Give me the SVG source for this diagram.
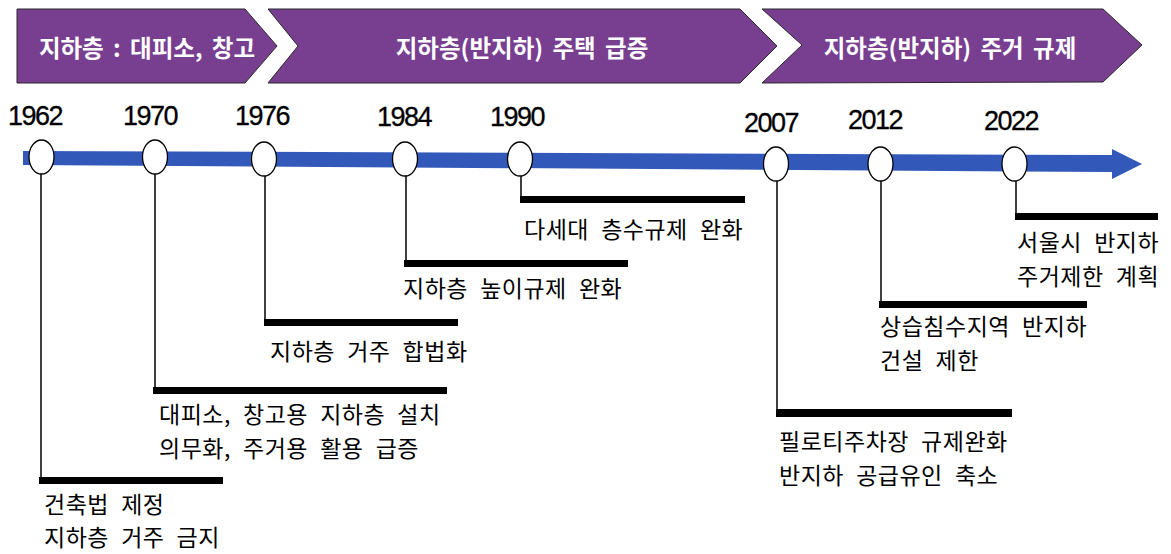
<svg xmlns="http://www.w3.org/2000/svg" width="1171" height="554" viewBox="0 0 1171 554">
<style>
.banner{fill:#783E90;stroke:#2a2a2a;stroke-width:1}
.btxt{font-family:"Noto Sans CJK KR",sans-serif;font-size:23.5px;font-weight:bold;fill:#fff;text-anchor:middle;word-spacing:4px}
.year{font-family:"Liberation Sans",Arial,sans-serif;font-size:27px;fill:#000;text-anchor:middle;letter-spacing:-1.5px;stroke:#000;stroke-width:0.3}
.dot{fill:#fff;stroke:#000;stroke-width:1.3}
.bar{fill:#000}
.lbl{font-family:"Noto Sans CJK KR",sans-serif;font-size:23px;fill:#000;word-spacing:6.5px;letter-spacing:0.5px}
.conn{stroke:#000;stroke-width:1.5;fill:none}
</style>
<rect width="1171" height="554" fill="#fff"/>
<g id="phase1">
<polygon class="banner" points="17,9 245,9 277,46 245,83 17,83"/>
<text class="btxt" x="147" y="57">지하층 : 대피소, 창고</text>
</g>
<g id="phase2">
<polygon class="banner" points="268,9 740,9 777,46 740,83 268,83 298,46"/>
<text class="btxt" x="522" y="57">지하층(반지하) 주택 급증</text>
</g>
<g id="phase3">
<polygon class="banner" points="762,9 1103,9 1142,45 1103,82 762,83 802,45"/>
<text class="btxt" x="950" y="57">지하층(반지하) 주거 규제</text>
</g>
<g id="timeline">
<polygon fill="#3259BA" points="23,151 1112,155 1112,149 1142,164 1112,179 1112,172 23,165"/>
</g>
<g id="connectors">
<line class="conn" x1="41" y1="174" x2="41" y2="478"/>
<line class="conn" x1="155" y1="174" x2="155" y2="388"/>
<line class="conn" x1="265" y1="176" x2="265" y2="320"/>
<line class="conn" x1="406" y1="175" x2="406" y2="261"/>
<line class="conn" x1="521" y1="175" x2="521" y2="197"/>
<line class="conn" x1="777" y1="181" x2="777" y2="410"/>
<line class="conn" x1="881" y1="181" x2="881" y2="302"/>
<line class="conn" x1="1016" y1="181" x2="1016" y2="214"/>
</g>
<g id="e1962">
<text class="year" x="35" y="125">1962</text>
<ellipse class="dot" cx="41.5" cy="157" rx="12.5" ry="17"/>
<rect class="bar" x="39" y="477" width="184" height="7"/>
<text class="lbl" x="44" y="513">건축법 제정</text>
<text class="lbl" x="44" y="546">지하층 거주 금지</text>
</g>
<g id="e1970">
<text class="year" x="150" y="125">1970</text>
<ellipse class="dot" cx="155" cy="157" rx="12.5" ry="17"/>
<rect class="bar" x="153" y="387" width="294" height="7"/>
<text class="lbl" x="159" y="423">대피소, 창고용 지하층 설치</text>
<text class="lbl" x="159" y="457">의무화, 주거용 활용 급증</text>
</g>
<g id="e1976">
<text class="year" x="262" y="125">1976</text>
<ellipse class="dot" cx="264" cy="159" rx="12.5" ry="17"/>
<rect class="bar" x="264" y="319" width="194" height="7"/>
<text class="lbl" x="270" y="360">지하층 거주 합법화</text>
</g>
<g id="e1984">
<text class="year" x="404" y="126">1984</text>
<ellipse class="dot" cx="405" cy="159" rx="12.5" ry="17"/>
<rect class="bar" x="404" y="260" width="224" height="7"/>
<text class="lbl" x="403" y="297">지하층 높이규제 완화</text>
</g>
<g id="e1990">
<text class="year" x="517" y="126">1990</text>
<ellipse class="dot" cx="520" cy="159" rx="12.5" ry="17"/>
<rect class="bar" x="520" y="196" width="225" height="7"/>
<text class="lbl" x="524" y="238">다세대 층수규제 완화</text>
</g>
<g id="e2007">
<text class="year" x="771" y="132">2007</text>
<ellipse class="dot" cx="776" cy="164" rx="12.5" ry="17"/>
<rect class="bar" x="776" y="409" width="236" height="8"/>
<text class="lbl" x="779" y="450">필로티주차장 규제완화</text>
<text class="lbl" x="779" y="484">반지하 공급유인 축소</text>
</g>
<g id="e2012">
<text class="year" x="875" y="129">2012</text>
<ellipse class="dot" cx="880.5" cy="164" rx="12.5" ry="17"/>
<rect class="bar" x="879" y="301" width="208" height="7"/>
<text class="lbl" x="880" y="335">상습침수지역 반지하</text>
<text class="lbl" x="880" y="369">건설 제한</text>
</g>
<g id="e2022">
<text class="year" x="1011" y="130">2022</text>
<ellipse class="dot" cx="1014.5" cy="164" rx="12.5" ry="17"/>
<rect class="bar" x="1015" y="213" width="143" height="7"/>
<text class="lbl" x="1017" y="251">서울시 반지하</text>
<text class="lbl" x="1017" y="285">주거제한 계획</text>
</g>
</svg>
